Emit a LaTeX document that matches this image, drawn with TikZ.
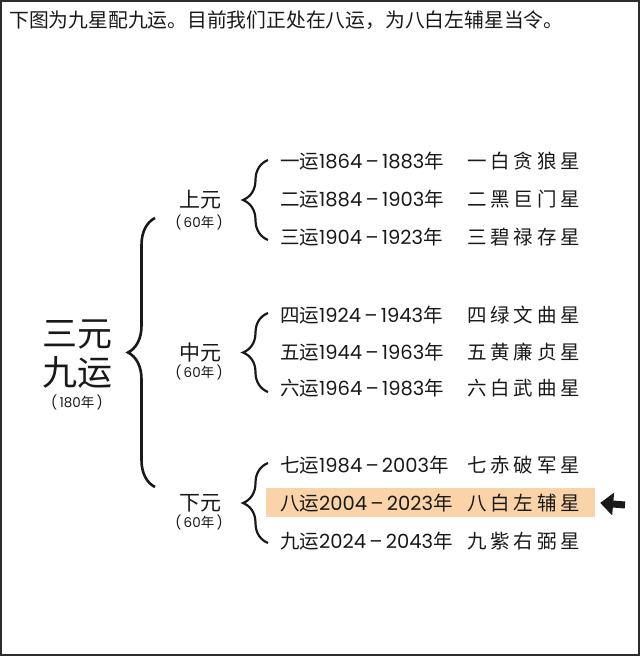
\documentclass[tikz,border=0pt]{standalone}
\usepackage{fontspec}
\setmainfont{Noto Sans CJK SC}
\newfontfamily\numfont{Poppins}
\newfontfamily\starfont[LetterSpace=20]{Noto Sans CJK SC}
\usetikzlibrary{decorations.pathreplacing,arrows.meta,positioning}
\definecolor{ink}{RGB}{25,25,25}
\definecolor{hilite}{RGB}{250,212,168}
\definecolor{framecol}{RGB}{45,45,45}
\newcommand{\yrs}[2]{{\numfont #1\,–\,#2}}
\newcommand{\spanof}[1]{{\numfont(\,#1}年{\numfont\,)}}

\begin{document}
\begin{tikzpicture}[x=1pt,y=-1pt,
    era/.style ={anchor=west, inner sep=0pt, text=ink, font=\fontsize{19.5}{22}\selectfont},
    star/.style ={anchor=west, inner sep=0pt, text=ink, font=\starfont\fontsize{19.5}{22}\selectfont},
    yuan/.style ={inner sep=0pt, text=ink, font=\fontsize{21}{23}\selectfont},
    span/.style ={inner sep=0pt, text=ink, font=\fontsize{13.5}{15}\selectfont},
    bigbrace/.style ={decorate, decoration={brace, amplitude=27pt}, line width=2.6pt, ink},
    smallbrace/.style ={decorate, decoration={brace, amplitude=25pt}, line width=2.2pt, ink}]
   \useasboundingbox (0,0) rectangle (640,656);
   \draw[framecol, line width=2pt] (1,1) rectangle (639,655);

   \node[anchor=west, inner sep=0pt, text=ink, font=\fontsize{19.8}{22}\selectfont] (title) at (9,20)
     {下图为九星配九运。目前我们正处在八运，为八白左辅星当令。};

   % left title
   \node[inner sep=0pt, text=ink, font=\fontsize{35}{38}\selectfont] (sy) at (77,335) {三元};
   \node[inner sep=0pt, text=ink, font=\fontsize{35}{38}\selectfont] (jy) at (77,372) {九运};
   \node[span] (all) at (77,402) {\spanof{180}};

   % braces
   \coordinate (bt) at (155,218);
   \coordinate (bb) at (155,487);
   \draw[bigbrace] (bb) -- (bt);

   \node[yuan] (shang) at (200,200) {上元};
   \node[span] (shangspan) at (199,222) {\spanof{60}};
   \node[yuan] (zhong) at (200,353) {中元};
   \node[span] (zhongspan) at (199,372) {\spanof{60}};
   \node[yuan] (xia) at (200,503) {下元};
   \node[span] (xiaspan) at (199,522) {\spanof{60}};

   \coordinate (s1t) at (268,160);
   \coordinate (s1b) at (268,240);
   \coordinate (s2t) at (268,313);
   \coordinate (s2b) at (268,392);
   \coordinate (s3t) at (268,463);
   \coordinate (s3b) at (268,543);
   \draw[smallbrace] (s1b) -- (s1t);
   \draw[smallbrace] (s2b) -- (s2t);
   \draw[smallbrace] (s3b) -- (s3t);

   % highlight of the current period
   \node[fill=hilite, minimum width=329pt, minimum height=29pt, inner sep=0pt] (hl) at (430.5,502.5) {};
   \coordinate (tail) at (625,505);
   \draw[line width=7pt, ink, -{Triangle[width=22pt,length=13pt]}, shorten >=5pt] (tail) -- (hl.east);

   % upper yuan
   \node[era] (y1) at (280,161) {一运\yrs{1864}{1883}年};
   \node[era] (y2) at (280,199) {二运\yrs{1884}{1903}年};
   \node[era] (y3) at (280,237) {三运\yrs{1904}{1923}年};
   \node[star] (x1) at (467,161) {一白贪狼星};
   \node[star] (x2) at (467,199) {二黑巨门星};
   \node[star] (x3) at (467,237) {三碧禄存星};
   % middle yuan
   \node[era] (y4) at (280,315) {四运\yrs{1924}{1943}年};
   \node[era] (y5) at (280,352) {五运\yrs{1944}{1963}年};
   \node[era] (y6) at (280,388) {六运\yrs{1964}{1983}年};
   \node[star] (x4) at (467,315) {四绿文曲星};
   \node[star] (x5) at (467,352) {五黄廉贞星};
   \node[star] (x6) at (467,388) {六白武曲星};
   % lower yuan
   \node[era] (y7) at (280,465) {七运\yrs{1984}{2003}年};
   \node[era] (y8) at (280,503) {八运\yrs{2004}{2023}年};
   \node[era] (y9) at (280,541) {九运\yrs{2024}{2043}年};
   \node[star] (x7) at (467,465) {七赤破军星};
   \node[star] (x8) at (467,503) {八白左辅星};
   \node[star] (x9) at (467,541) {九紫右弼星};
 \end{tikzpicture}
\end{document}
